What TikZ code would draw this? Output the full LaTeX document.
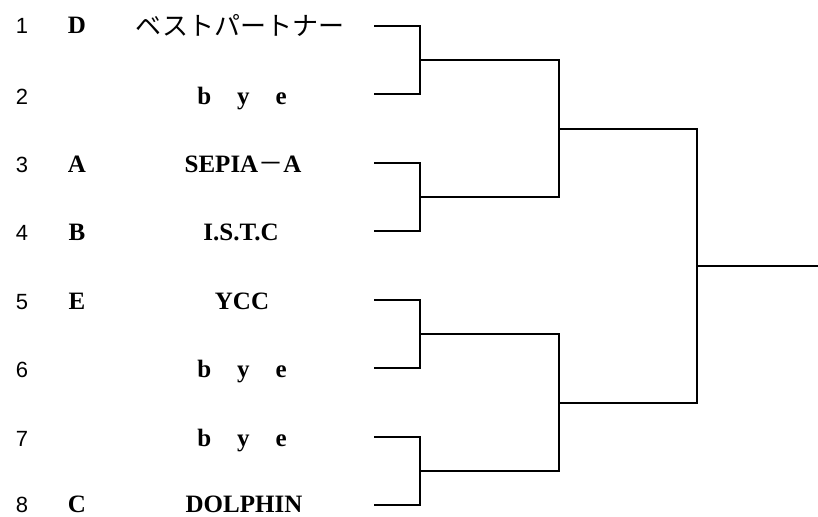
\documentclass[tikz,border=0pt]{standalone}
\usepackage{fontspec}
\setmainfont{Liberation Serif}
\newfontfamily\cjk{Noto Sans CJK JP}
\newfontfamily\digitfont{Liberation Sans}
\begin{document}
\begin{tikzpicture}[x=1pt,y=-1pt,
  num/.style={font=\digitfont\fontsize{22}{26}\selectfont, anchor=base, inner sep=0pt},
  seedlbl/.style={font=\bfseries\fontsize{25}{28}\selectfont, anchor=base, inner sep=0pt},
  team/.style={font=\bfseries\fontsize{25}{28}\selectfont, anchor=base, inner sep=0pt},
  wire/.style={line width=2pt, line join=miter}]
\useasboundingbox (0,0) rectangle (818,516);

% row numbers
\node[num] (n1) at (22,34) {1};
\node[num] (n2) at (22,104) {2};
\node[num] (n3) at (22,172) {3};
\node[num] (n4) at (22,240) {4};
\node[num] (n5) at (22,309) {5};
\node[num] (n6) at (22,377) {6};
\node[num] (n7) at (22,446) {7};
\node[num] (n8) at (22,512) {8};

% seed letters
\node[seedlbl] (s1) at (77,34) {D};
\node[seedlbl] (s3) at (77,172) {A};
\node[seedlbl] (s4) at (77,240) {B};
\node[seedlbl] (s5) at (77,309) {E};
\node[seedlbl] (s8) at (77,512) {C};

% teams
\node[team, font=\cjk\fontsize{26}{30}\selectfont] (t1) at (240,36) {ベストパートナー};
\node[team] (t2) at (242,104) {b\hspace{26pt}y\hspace{26pt}e};
\node[team] (t3) at (243,172) {SEPIA{\cjk\mdseries －}A};
\node[team] (t4) at (241,240) {I.S.T.C};
\node[team] (t5) at (242,309) {YCC};
\node[team] (t6) at (242,377) {b\hspace{26pt}y\hspace{26pt}e};
\node[team] (t7) at (242,446) {b\hspace{26pt}y\hspace{26pt}e};
\node[team] (t8) at (244,512) {DOLPHIN};

% bracket coordinates
\coordinate (r1) at (374,26);
\coordinate (r2) at (374,94);
\coordinate (r3) at (374,163);
\coordinate (r4) at (374,231);
\coordinate (r5) at (374,300);
\coordinate (r6) at (374,368);
\coordinate (r7) at (374,437);
\coordinate (r8) at (374,505);
\coordinate (j1) at (420,60);
\coordinate (j2) at (420,197);
\coordinate (j3) at (420,334);
\coordinate (j4) at (420,471);
\coordinate (k1) at (559,129);
\coordinate (k2) at (559,403);
\coordinate (f) at (697,266);
\coordinate (w) at (818,266);

\draw[wire] (r1) -| (j1) |- (r2);
\draw[wire] (r3) -| (j2) |- (r4);
\draw[wire] (r5) -| (j3) |- (r6);
\draw[wire] (r7) -| (j4) |- (r8);
\draw[wire] (j1) -| (k1) |- (j2);
\draw[wire] (j3) -| (k2) |- (j4);
\draw[wire] (k1) -| (f) |- (k2);
\draw[wire] (f) -- (w);
\end{tikzpicture}
\end{document}
